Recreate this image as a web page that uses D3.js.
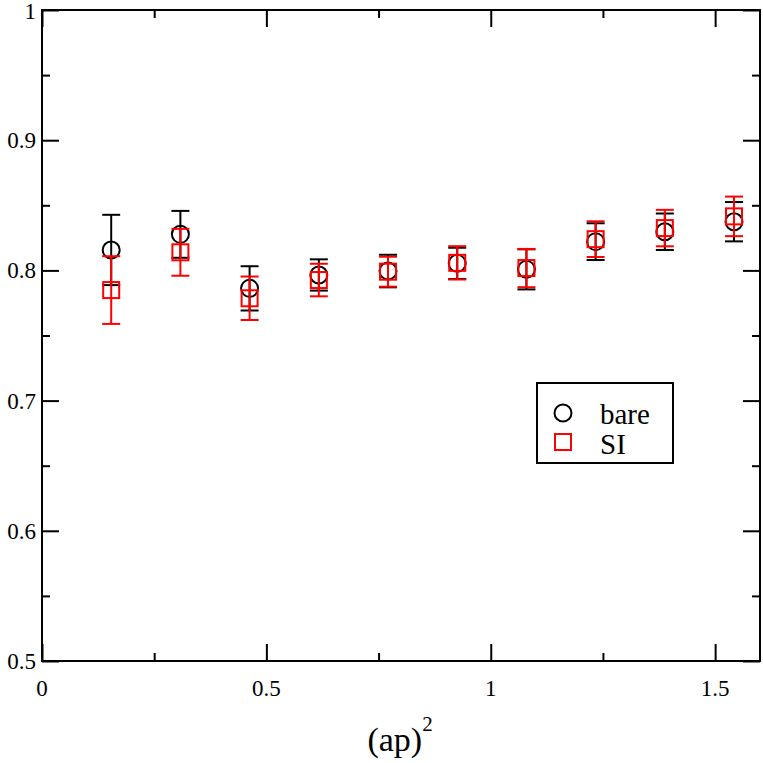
<!DOCTYPE html>
<html>
<head>
<meta charset="utf-8">
<script src="https://cdn.jsdelivr.net/npm/d3@7"></script>
<style>
body{margin:0;background:#fff;}
</style>
</head>
<body>
<div id="chart"></div>
<script>
var W=763, H=763;
var L=42, R=760, T=10, B=661;
var FONT="'Liberation Serif', 'Times New Roman', Times, serif";

// data
var xs=[0.1542,0.3084,0.4626,0.6169,0.7711,0.9253,1.0795,1.2337,1.3879,1.5421];
var bareY=[0.8157,0.8277,0.7862,0.7965,0.7995,0.8054,0.8008,0.8221,0.8297,0.8374];
var bareErr=[0.027,0.018,0.017,0.012,0.0125,0.012,0.0154,0.0141,0.014,0.0151];
var siY=[0.7849,0.8139,0.7786,0.7926,0.7990,0.8058,0.8018,0.8240,0.8325,0.8415];
var siErr=[0.026,0.018,0.0167,0.0125,0.0115,0.0128,0.0147,0.0137,0.014,0.0152];
var xMajor=[0,0.5,1,1.5];
var xMinor=[0.25,0.75,1.25];
var yMajor=[0.5,0.6,0.7,0.8,0.9,1];
var yMinor=[0.55,0.65,0.75,0.85,0.95];
var xLabels=["0","0.5","1","1.5"];
var yLabels=["0.5","0.6","0.7","0.8","0.9","1"];

var svg=d3.select("#chart").append("svg").attr("width",W).attr("height",H)
  .style("font-family",FONT);

var x=d3.scaleLinear().domain([0,1.6]).range([L,R]);
var y=d3.scaleLinear().domain([0.5,1]).range([B,T]);

//ticks pointing inward on all four sides
function tickAxis(axis,vals,size,tr){
  var g=svg.append("g").attr("transform",tr)
    .call(axis.tickValues(vals).tickSize(size).tickFormat(""));
  g.select(".domain").remove();
  g.selectAll("line").attr("stroke","#000").attr("stroke-width",2);
}
tickAxis(d3.axisBottom(x),xMajor,-17,"translate(0,"+B+")");
tickAxis(d3.axisBottom(x),xMinor,-8,"translate(0,"+B+")");
tickAxis(d3.axisTop(x),xMajor,-17,"translate(0,"+T+")");
tickAxis(d3.axisTop(x),xMinor,-8,"translate(0,"+T+")");
tickAxis(d3.axisLeft(y),yMajor,-17,"translate("+L+",0)");
tickAxis(d3.axisLeft(y),yMinor,-8,"translate("+L+",0)");
tickAxis(d3.axisRight(y),yMajor,-17,"translate("+R+",0)");
tickAxis(d3.axisRight(y),yMinor,-8,"translate("+R+",0)");

svg.append("rect").attr("x",L).attr("y",T).attr("width",R-L).attr("height",B-T)
  .attr("fill","none").attr("stroke","#000").attr("stroke-width",2);

// tick labels
svg.selectAll(".xl").data(xMajor).enter().append("text")
  .attr("x",function(d){return x(d);}).attr("y",B+35)
  .attr("text-anchor","middle").style("font-size","23px").style("font-family",FONT)
  .text(function(d,i){return xLabels[i];});
svg.selectAll(".yl").data(yMajor).enter().append("text")
  .attr("x",L-6).attr("y",function(d){return Math.max(y(d)+8,19);})
  .attr("text-anchor","end").style("font-size","23px").style("font-family",FONT)
  .text(function(d,i){return yLabels[i];});

// axis title
var t=svg.append("text").attr("x",400).attr("y",751).attr("text-anchor","middle")
  .style("font-size","34px").style("font-family",FONT);
t.append("tspan").text("(ap)");
t.append("tspan").attr("dy",-20).style("font-size","21px").text("2");

function drawSet(ys,errs,color,shape){
  var g=svg.append("g");
  var cap=9;
  ys.forEach(function(v,i){
    var cx=x(xs[i]), lo=y(v-errs[i]), hi=y(v+errs[i]);
    g.append("line").attr("x1",cx).attr("x2",cx).attr("y1",lo).attr("y2",hi)
      .attr("stroke",color).attr("stroke-width",2);
    [lo,hi].forEach(function(yy){
      g.append("line").attr("x1",cx-cap).attr("x2",cx+cap).attr("y1",yy).attr("y2",yy)
        .attr("stroke",color).attr("stroke-width",2);
    });
    if(shape=="circle"){
      g.append("circle").attr("cx",cx).attr("cy",y(v)).attr("r",8.5)
        .attr("fill","none").attr("stroke",color).attr("stroke-width",2);
    } else {
      g.append("rect").attr("x",cx-8).attr("y",y(v)-8).attr("width",16).attr("height",16)
        .attr("fill","none").attr("stroke",color).attr("stroke-width",2);
    }
  });
}
drawSet(bareY,bareErr,"#000","circle");
drawSet(siY,siErr,"#ff0000","square");

// legend
svg.append("rect").attr("x",537).attr("y",383).attr("width",136).attr("height",80)
  .attr("fill","#fff").attr("stroke","#000").attr("stroke-width",2);
svg.append("circle").attr("cx",563).attr("cy",413).attr("r",8.5)
  .attr("fill","none").attr("stroke","#000").attr("stroke-width",2);
svg.append("rect").attr("x",555).attr("y",434).attr("width",16).attr("height",16)
  .attr("fill","none").attr("stroke","#ff0000").attr("stroke-width",2);
svg.append("text").attr("x",600).attr("y",424).style("font-size","29px").style("font-family",FONT).text("bare");
svg.append("text").attr("x",600).attr("y",454).style("font-size","29px").style("font-family",FONT).text("SI");
</script>
</body>
</html>
